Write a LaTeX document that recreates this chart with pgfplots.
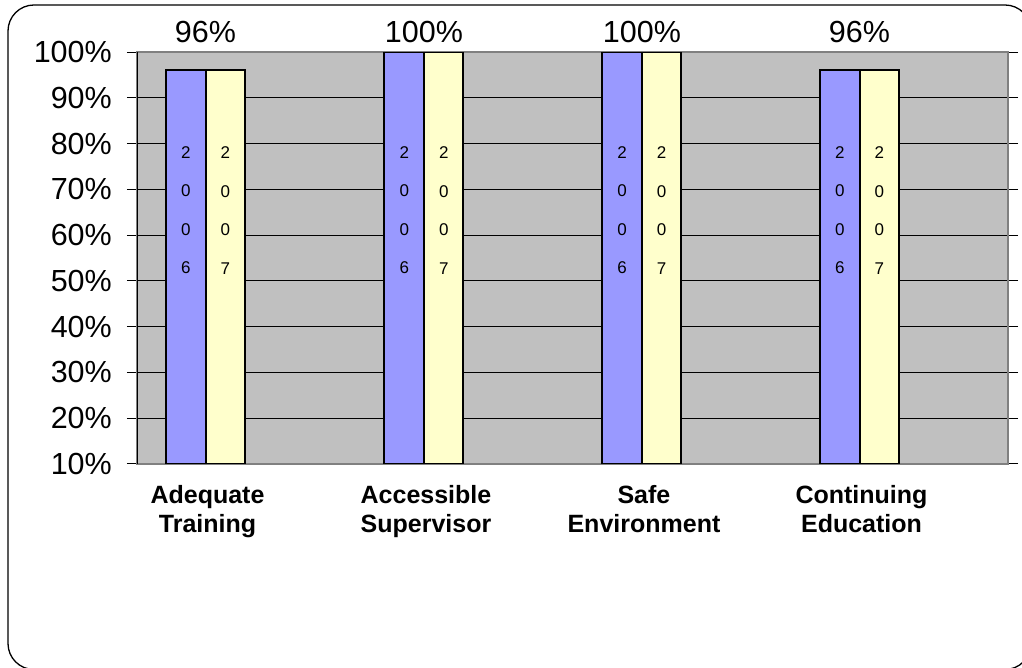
\documentclass[border=0pt]{standalone}
\usepackage{pgfplots}
\pgfplotsset{compat=1.18}
\usepackage{fontspec}
\setmainfont{Liberation Sans}
\definecolor{plotbg}{HTML}{C0C0C0}
\definecolor{frame}{HTML}{808080}
\definecolor{c2006}{HTML}{9999FF}
\definecolor{c2007}{HTML}{FFFFCC}
\begin{document}
\begin{tikzpicture}
\useasboundingbox (0,0) rectangle (1022pt,668pt);
\begin{scope}
\clip (0,0) rectangle (1022pt,668pt);
\draw[line width=1.3pt, rounded corners=26pt] (8pt,663pt) rectangle (1031pt,-1.5pt);
\end{scope}
\begin{axis}[
    at={(137pt,204pt)}, anchor=south west,
    width=871pt, height=412pt, scale only axis,
    xmin=0, xmax=4, ymin=10, ymax=100,
    ytick={10,20,...,100},
    yticklabel={\pgfmathprintnumber{\tick}\%},
    /pgf/number format/assume math mode=true,
    yticklabel style={font=\fontsize{30.5}{35}\selectfont, inner sep=0pt, xshift=-15pt},
    xtick={0.3146,1.318,2.319,3.318},
    xticklabels={{Adequate\\Training},{Accessible\\Supervisor},{Safe\\Environment},{Continuing\\Education}},
    xticklabel style={align=center, font=\bfseries\fontsize{25}{29}\selectfont, inner sep=0pt, yshift=-11pt, xshift=2pt},
    x tick style={draw=none},
    y tick style={black, line width=1pt},
    tick align=outside, major tick length=10pt,
    ymajorgrids, grid style={black, line width=0.9pt},
    axis background/.style={fill=plotbg},
    axis line style={frame, line width=2pt},
]
\addplot[ybar, bar width=0.1814, bar shift=-0.0907, fill=c2006, draw=black, line width=2pt]
    coordinates {(0.3146,96) (1.318,100) (2.319,100) (3.318,96)};
\addplot[ybar, bar width=0.1814, bar shift=0.0907, fill=c2007, draw=black, line width=2pt]
    coordinates {(0.3146,96) (1.318,100) (2.319,100) (3.318,96)};
% series names written inside the bars
\addplot[only marks, mark size=0pt, mark options={draw=none, fill=none},
    nodes near coords={2\\0\\0\\6},
    every node near coord/.append style={align=center, anchor=center, inner sep=0pt,
        font=\fontsize{17}{38.5}\selectfont}]
    coordinates {(0.2239,65.4) (1.2273,65.4) (2.2283,65.4) (3.2273,65.4)};
\addplot[only marks, mark size=0pt, mark options={draw=none, fill=none},
    nodes near coords={2\\0\\0\\7},
    every node near coord/.append style={align=center, anchor=center, inner sep=0pt,
        font=\fontsize{17}{38.5}\selectfont}]
    coordinates {(0.4053,65.4) (1.4087,65.4) (2.4097,65.4) (3.4087,65.4)};
% value labels above the plot area
\addplot[only marks, mark size=0pt, mark options={draw=none, fill=none},
    point meta=explicit,
    nodes near coords={\pgfmathprintnumber{\pgfplotspointmeta}\%},
    every node near coord/.append style={anchor=base, yshift=10pt, inner sep=0pt,
        font=\fontsize{30.5}{35}\selectfont}]
    coordinates {(0.3146,100)[96] (1.318,100)[100] (2.319,100)[100] (3.318,100)[96]};
\draw[black, line width=1pt] (rel axis cs:0,0) -- (rel axis cs:0,1);
\end{axis}
\end{tikzpicture}
\end{document}
